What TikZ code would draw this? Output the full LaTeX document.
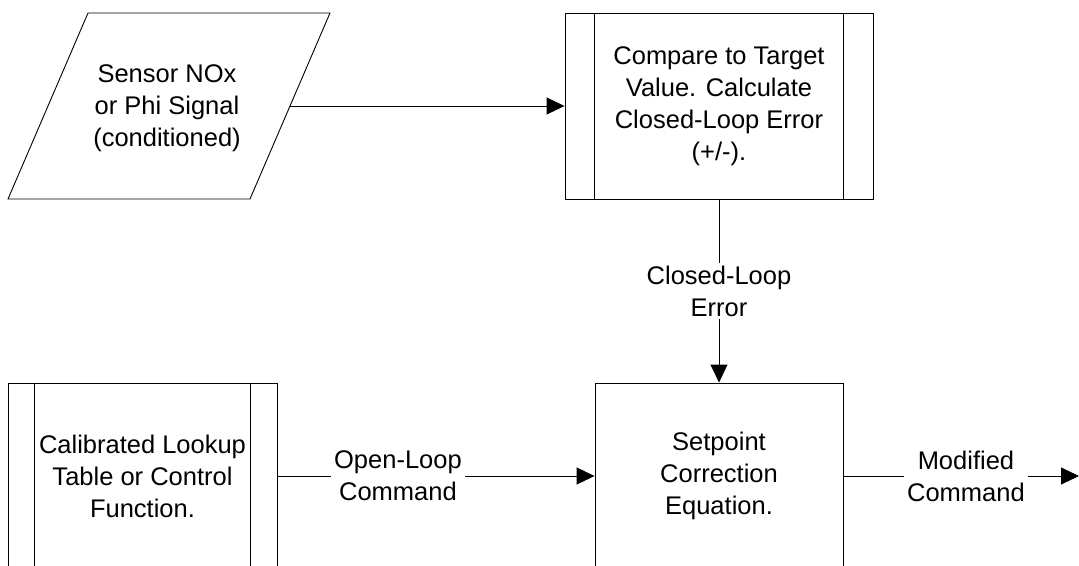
\documentclass[tikz,border=0pt]{standalone}
\usepackage{fontspec}
\setmainfont{Liberation Sans}
\usetikzlibrary{arrows.meta}

\begin{document}
\begin{tikzpicture}[x=1pt,y=-1pt,
    line width=0.9pt,
    txt/.style={align=center, font=\fontsize{25.5}{32}\selectfont},
    predef/.style={draw, txt, minimum height=186pt},
    lbl/.style={txt, fill=white, inner sep=3pt},
    arr/.style={-{Triangle[length=18pt,width=17pt]}}]

    \useasboundingbox (0,0) rectangle (1079,565);

    % input signal
    \draw (88,13) -- (330,13) -- (250,199) -- (8,199) -- cycle;
    \node[txt] (sensor) at (167,108) {Sensor NOx\\or Phi Signal\\(conditioned)};
    \coordinate (sensorout) at (290,106);

    % predefined processes
    \node[predef, minimum width=308pt] (compare) at (719,106) {Compare to Target\\Value. Calculate\\Closed-Loop Error\\(+/-).};
    \draw ([xshift=30pt]compare.north west) -- ([xshift=30pt]compare.south west);
    \draw ([xshift=-30pt]compare.north east) -- ([xshift=-30pt]compare.south east);

    \node[predef, minimum width=269pt] (calib) at (142.5,476) {Calibrated Lookup\\Table or Control\\Function.};
    \draw ([xshift=27pt]calib.north west) -- ([xshift=27pt]calib.south west);
    \draw ([xshift=-27pt]calib.north east) -- ([xshift=-27pt]calib.south east);

    \node[predef, minimum width=248pt] (setpoint) at (719,476) {Setpoint\\Correction\\Equation.};
    \coordinate (out) at (1079,476);

    % connectors
    \draw[arr] (sensorout) -- (compare.west);
    \draw[arr] (compare.south) -- node[lbl] {Closed-Loop\\Error} (setpoint.north);
    \draw[arr] (calib.east) -- node[lbl, pos=0.38] {Open-Loop\\Command} (setpoint.west);
    \draw[arr] (setpoint.east) -- node[lbl, pos=0.52] {Modified\\Command} (out);

\end{tikzpicture}
\end{document}
